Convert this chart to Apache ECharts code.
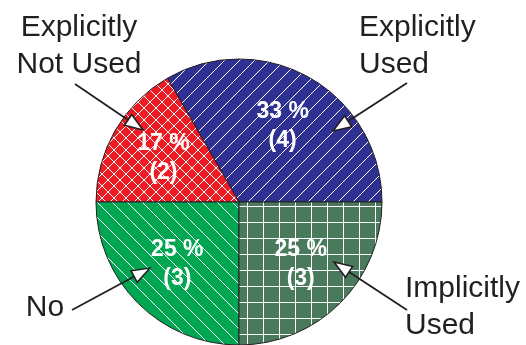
<!DOCTYPE html>
<html>
<head>
<meta charset="utf-8">
<script src="https://cdn.jsdelivr.net/npm/echarts@6/dist/echarts.min.js"></script>
<style>
  html, body { margin: 0; padding: 0; background: #fff; }
  #chart { width: 526px; height: 345px; }
</style>
</head>
<body>
<div id="chart"></div>
<script>
// Slices, counter-clockwise from 3 o'clock
const categories = ['Explicitly Used', 'Explicitly Not Used', 'No', 'Implicitly Used'];
const counts = [4, 2, 3, 3];
const calloutText = ['Explicitly\nUsed', 'Explicitly\nNot Used', 'No', 'Implicitly\nUsed'];

// Geometry and styling
const CX = 239, CY = 202, R = 143;
const INK = '#231F20';
const FONT = '"Liberation Sans", Arial, Helvetica, sans-serif';

function tile(size, bg, draw) {
  const c = document.createElement('canvas');
  c.width = size; c.height = size;
  const g = c.getContext('2d');
  g.fillStyle = bg;
  g.fillRect(0, 0, size, size);
  g.strokeStyle = '#fff';
  g.lineWidth = 1;
  g.beginPath();
  draw(g, size);
  g.stroke();
  return c;
}
function slash(g, s) { for (const k of [-s, 0, s]) { g.moveTo(k, s); g.lineTo(k + s, 0); } }
function backslash(g, s) { for (const k of [-s, 0, s]) { g.moveTo(k, 0); g.lineTo(k + s, s); } }

const fills = [
  tile(15, '#2E3192', slash),
  tile(12, '#ED1C24', (g, s) => { slash(g, s); backslash(g, s); }),
  tile(15, '#00A651', backslash),
  tile(16, '#4A7A5C', (g, s) => { g.moveTo(7.5, 0); g.lineTo(7.5, s); g.moveTo(0, 14.5); g.lineTo(s, 14.5); })
];

const total = counts.reduce((a, b) => a + b, 0);
function midAngle(i) {
  let before = 0;
  for (let k = 0; k < i; k++) before += counts[k];
  return (before + counts[i] / 2) / total * 2 * Math.PI;
}

// Callout placement: text anchor, alignment, line start and arrow tip
const callouts = [
  { x: 359, y: 46, align: 'left',   from: [407, 83],  tip: [333, 131] },
  { x: 79,  y: 46, align: 'center', from: [75, 84],   tip: [143, 130] },
  { x: 45,  y: 308, align: 'center', from: [72, 310], tip: [150, 268] },
  { x: 405, y: 307, align: 'left',  from: [407, 310], tip: [334, 262] }
];

const graphics = [];
callouts.forEach((c, i) => {
  graphics.push({
    type: 'text', x: c.x, y: c.y, silent: true, z: 100,
    style: {
      text: calloutText[i], fill: INK, font: '30px ' + FONT,
      align: c.align, verticalAlign: 'middle', lineHeight: 37
    }
  });
  const dx = c.tip[0] - c.from[0], dy = c.tip[1] - c.from[1];
  const len = Math.hypot(dx, dy), ux = dx / len, uy = dy / len;
  const headLen = 18, halfW = 6.5;
  const bx = c.tip[0] - ux * headLen, by = c.tip[1] - uy * headLen;
  graphics.push({
    type: 'polyline', silent: true, z: 100,
    shape: { points: [c.from, [bx, by]] },
    style: { stroke: INK, lineWidth: 1.8, fill: null }
  });
  graphics.push({
    type: 'polygon', silent: true, z: 101,
    shape: { points: [c.tip, [bx - uy * halfW, by + ux * halfW], [bx + uy * halfW, by - ux * halfW]] },
    style: { stroke: INK, lineWidth: 1.6, fill: '#fff' }
  });
});

const chart = echarts.init(document.getElementById('chart'), null, { renderer: 'canvas' });
chart.setOption({
  animation: false,
  backgroundColor: '#fff',
  series: [{
    type: 'pie',
    z: 2,
    center: [CX, CY],
    radius: [0, R],
    startAngle: 0,
    clockwise: false,
    silent: true,
    emphasis: { disabled: true },
    itemStyle: { borderColor: INK, borderWidth: 1 },
    data: categories.map((name, i) => ({
      name, value: counts[i],
      itemStyle: { color: { image: fills[i], repeat: 'repeat' } }
    })),
    label: {
      show: true,
      position: 'inside',
      color: '#fff',
      fontFamily: FONT,
      fontWeight: 'bold',
      fontSize: 23,
      lineHeight: 29,
      textBorderWidth: 0,
      formatter: p => Math.round(p.value / total * 100) + ' %\n(' + p.value + ')'
    },
    labelLayout: p => {
      const a = midAngle(p.dataIndex);
      return {
        x: CX + 0.61 * R * Math.cos(a),
        y: CY - 0.61 * R * Math.sin(a),
        align: 'center',
        verticalAlign: 'middle'
      };
    },
    labelLine: { show: false }
  }],
  graphic: { elements: graphics, z: 100 }
});
</script>
</body>
</html>
